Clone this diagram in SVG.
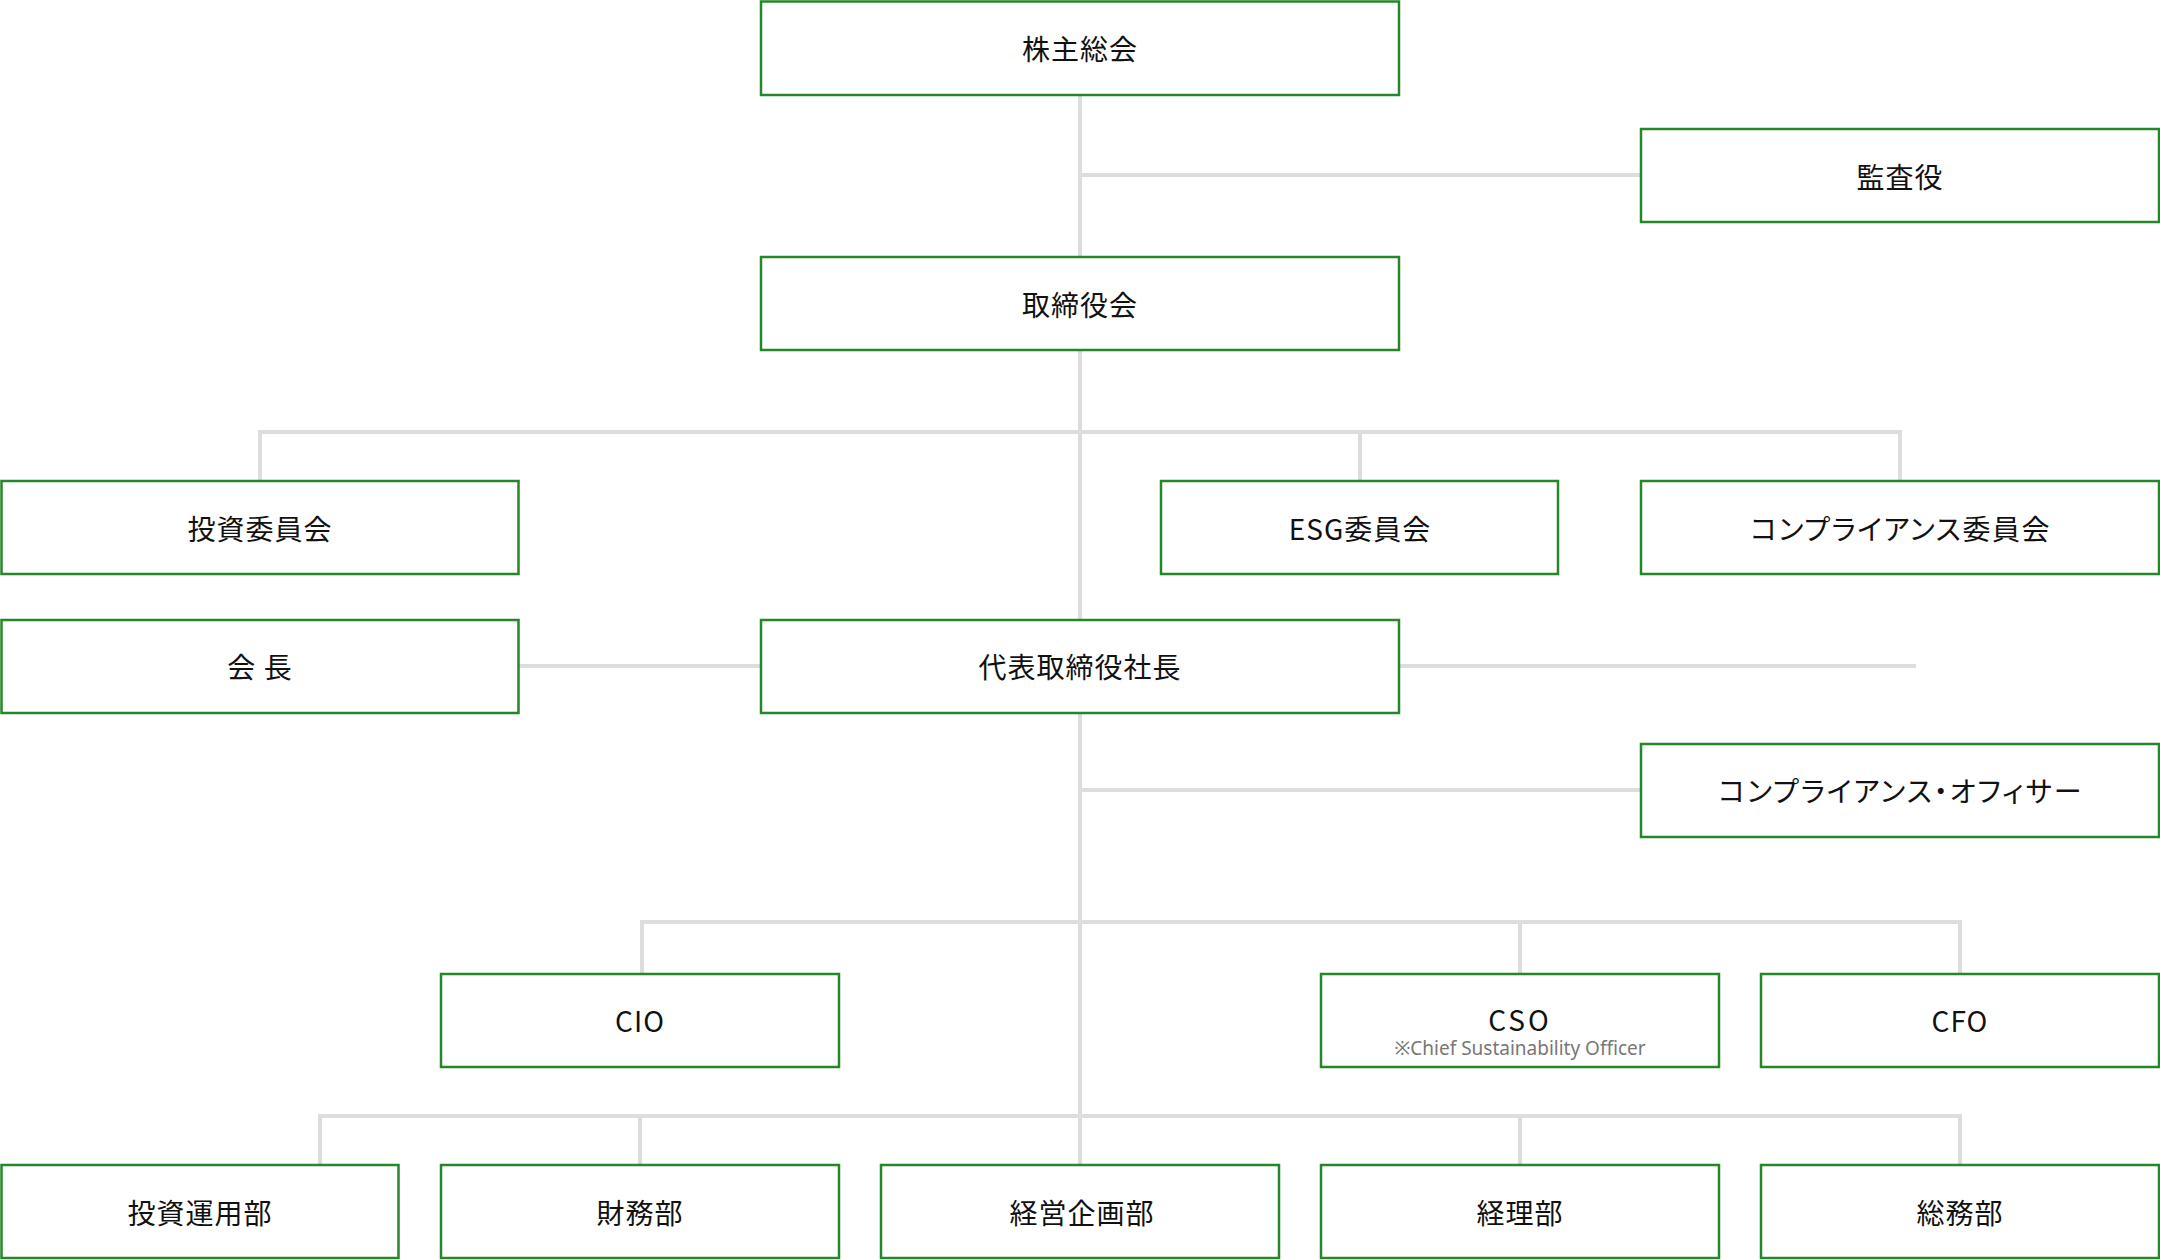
<svg xmlns="http://www.w3.org/2000/svg" width="2160" height="1260" viewBox="0 0 2160 1260">
<style>
.box{fill:#fff;stroke:#25862a;stroke-width:2.5}
.t{font-family:"Noto Sans CJK JP","Noto Sans",sans-serif;font-size:28px;fill:#111;text-anchor:middle;dominant-baseline:central;letter-spacing:1px}
.p{font-feature-settings:"palt";letter-spacing:0}
.s{font-family:"Noto Sans","Noto Sans CJK JP",sans-serif;font-size:19px;fill:#777;text-anchor:middle}
.c{fill:none;stroke:#dddddd;stroke-width:4}
</style>
<rect width="2160" height="1260" fill="#fff"/>
<g id="connectors" class="c">
<path d="M1080 95V258M1080 175H1641"/>
<path d="M1080 350V620M260 481V432H1900V481M1360 432V481"/>
<path d="M518 666H761M1399 666H1916"/>
<path d="M1080 713V1165M1080 790H1641"/>
<path d="M642 974V922H1960V974M1520 922V974"/>
<path d="M320 1165V1116H1960V1165M640 1116V1165M1520 1116V1165"/>
</g>
<g id="n1"><rect class="box" x="761" y="1.5" width="638" height="93.5"/><text class="t" x="1080" y="48">株主総会</text></g>
<g id="n2"><rect class="box" x="1641" y="129" width="518" height="93"/><text class="t" x="1900" y="176">監査役</text></g>
<g id="n3"><rect class="box" x="761" y="257" width="638" height="93"/><text class="t" x="1080" y="304">取締役会</text></g>
<g id="n4"><rect class="box" x="1.5" y="481" width="517" height="93"/><text class="t" x="260" y="528">投資委員会</text></g>
<g id="n5"><rect class="box" x="1161" y="481" width="397" height="93"/><text class="t" x="1360" y="528">ESG委員会</text></g>
<g id="n6"><rect class="box" x="1641" y="481" width="518" height="93"/><text class="t p" x="1900" y="528" textLength="299" lengthAdjust="spacing">コンプライアンス委員会</text></g>
<g id="n7"><rect class="box" x="1.5" y="620" width="517" height="93"/><text class="t" x="260" y="666">会 長</text></g>
<g id="n8"><rect class="box" x="761" y="620" width="638" height="93"/><text class="t" x="1080" y="666">代表取締役社長</text></g>
<g id="n9"><rect class="box" x="1641" y="744" width="518" height="93"/><text class="t p" x="1900" y="790" textLength="363" lengthAdjust="spacing">コンプライアンス・オフィサー</text></g>
<g id="n10"><rect class="box" x="441" y="974" width="398" height="93"/><text class="t" x="640" y="1020">CIO</text></g>
<g id="n11"><rect class="box" x="1321" y="974" width="398" height="93"/><text class="t" x="1520" y="1019" style="letter-spacing:3px">CSO</text><text class="s" x="1520" y="1055">※Chief Sustainability Officer</text></g>
<g id="n12"><rect class="box" x="1761" y="974" width="398" height="93"/><text class="t" x="1960" y="1020">CFO</text></g>
<g id="n13"><rect class="box" x="1.5" y="1165" width="397" height="93"/><text class="t" x="200" y="1212">投資運用部</text></g>
<g id="n14"><rect class="box" x="441" y="1165" width="398" height="93"/><text class="t" x="640" y="1212">財務部</text></g>
<g id="n15"><rect class="box" x="881" y="1165" width="398" height="93"/><text class="t" x="1082" y="1212">経営企画部</text></g>
<g id="n16"><rect class="box" x="1321" y="1165" width="398" height="93"/><text class="t" x="1520" y="1212">経理部</text></g>
<g id="n17"><rect class="box" x="1761" y="1165" width="398" height="93"/><text class="t" x="1960" y="1212">総務部</text></g>
</svg>
